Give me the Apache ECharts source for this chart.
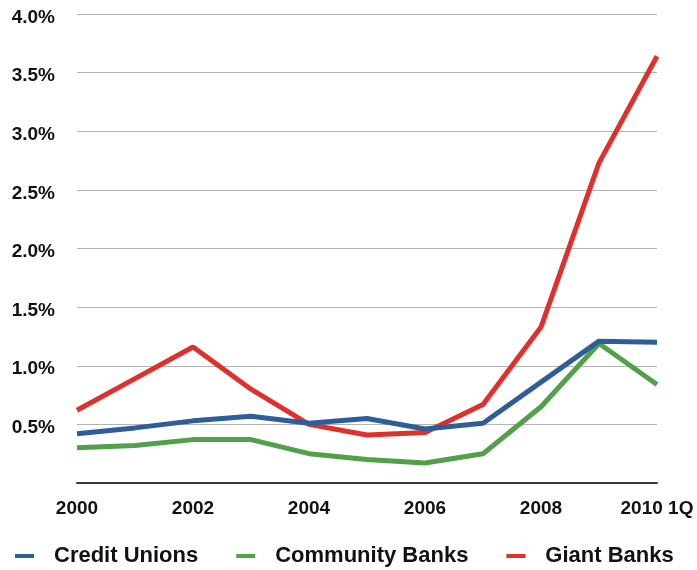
<!DOCTYPE html>
<html>
<head>
<meta charset="utf-8">
<script src="https://cdn.jsdelivr.net/npm/echarts@6/dist/echarts.min.js"></script>
<style>
  html, body { margin: 0; padding: 0; background: #fff; }
  #chart { width: 697px; height: 570px; }
</style>
</head>
<body>
<div id="chart"></div>
<script>
// Years along the bottom axis
const categories = ['2000', '2001', '2002', '2003', '2004', '2005', '2006', '2007', '2008', '2009', '2010 1Q'];

// Rates in percent
const creditUnions   = [0.42, 0.47, 0.53, 0.57, 0.51, 0.55, 0.46, 0.51, 0.86, 1.21, 1.20];
const communityBanks = [0.30, 0.32, 0.37, 0.37, 0.25, 0.20, 0.17, 0.25, 0.65, 1.19, 0.84];
const giantBanks     = [0.62, 0.89, 1.16, 0.80, 0.50, 0.41, 0.43, 0.67, 1.33, 2.73, 3.64];

const seriesNames = ['Credit Unions', 'Community Banks', 'Giant Banks'];
const seriesColors = ['#2d5e99', '#52a04a', '#e1302c'];

const chart = echarts.init(document.getElementById('chart'), null, { renderer: 'canvas' });

const font = 'Liberation Sans, Arial, Helvetica, sans-serif';

chart.setOption({
  animation: false,
  backgroundColor: '#ffffff',
  grid: { left: 77, right: 40, top: 14, bottom: 87, containLabel: false },
  legend: {
    left: 10,
    top: 540,
    icon: 'rect',
    itemWidth: 19,
    itemHeight: 4,
    itemGap: 38,
    textStyle: {
      fontFamily: font,
      fontWeight: 'bold',
      fontSize: 22,
      color: '#111',
      padding: [0, 0, 0, 15]
    },
    data: seriesNames
  },
  xAxis: {
    type: 'category',
    data: categories,
    boundaryGap: false,
    axisLine: { show: true, lineStyle: { color: '#3a3a3a', width: 2 } },
    axisTick: { show: false },
    axisLabel: {
      interval: 1,
      margin: 16,
      fontFamily: font,
      fontWeight: 'bold',
      fontSize: 19,
      color: '#111'
    },
    splitLine: { show: false }
  },
  yAxis: {
    type: 'value',
    min: 0,
    max: 4,
    interval: 0.5,
    axisLine: { show: false },
    axisTick: { show: false },
    axisLabel: {
      margin: 22,
      fontFamily: font,
      fontWeight: 'bold',
      fontSize: 19,
      color: '#111',
      formatter: function (v) { return v === 0 ? '' : '{p|' + v.toFixed(1) + '%}'; },
      rich: {
        p: {
          fontFamily: font,
          fontWeight: 'bold',
          fontSize: 19,
          color: '#111',
          padding: [7, 0, 0, 0]
        }
      }
    },
    splitLine: { show: true, lineStyle: { color: '#b4b4b4', width: 1 } }
  },
  series: [
    { name: seriesNames[0], type: 'line', data: creditUnions, showSymbol: false, symbol: 'none',
      itemStyle: { color: seriesColors[0] }, lineStyle: { color: seriesColors[0], width: 5 }, z: 3 },
    { name: seriesNames[1], type: 'line', data: communityBanks, showSymbol: false, symbol: 'none',
      itemStyle: { color: seriesColors[1] }, lineStyle: { color: seriesColors[1], width: 5 }, z: 2 },
    { name: seriesNames[2], type: 'line', data: giantBanks, showSymbol: false, symbol: 'none',
      itemStyle: { color: seriesColors[2] }, lineStyle: { color: seriesColors[2], width: 5 }, z: 1 }
  ]
});
</script>
</body>
</html>
